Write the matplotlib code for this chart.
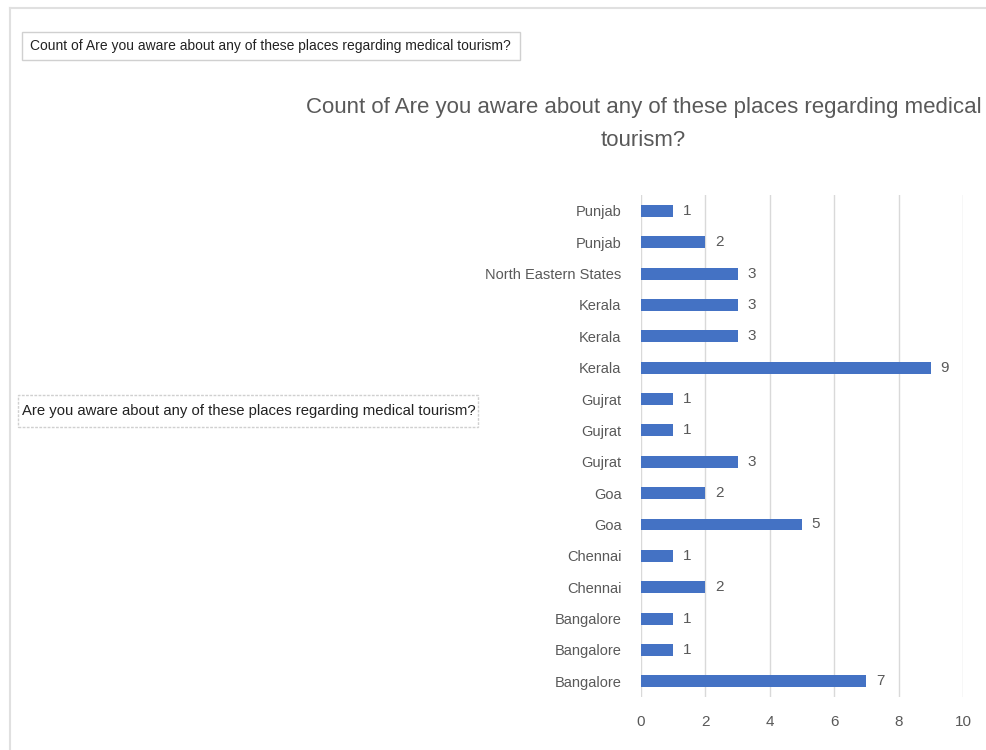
import matplotlib
matplotlib.use("Agg")
import matplotlib.pyplot as plt
from matplotlib.patches import Rectangle
from matplotlib.lines import Line2D

plt.rcParams["font.family"] = ["Liberation Sans", "DejaVu Sans"]

# bottom-to-top order, as the pivot chart draws them
places = ["Bangalore", "Bangalore", "Bangalore", "Chennai", "Chennai", "Goa", "Goa",
          "Gujrat", "Gujrat", "Gujrat", "Kerala", "Kerala", "Kerala",
          "North Eastern States", "Punjab", "Punjab"]
counts = [7, 1, 1, 2, 1, 5, 2, 3, 1, 1, 9, 3, 3, 3, 2, 1]
xticks = [0, 2, 4, 6, 8, 10]

BAR = "#4472C4"; TXT = "#595959"; GRID = "#D9D9D9"

fig = plt.figure(figsize=(9.87, 7.5), dpi=100)
ax = fig.add_axes([0.6494, 0.0707, 0.3263, 0.669])
y = range(len(places))
ax.barh(y, counts, height=0.38, color=BAR, zorder=3)
for i, v in zip(y, counts):
    ax.text(v + 0.3, i, f"{v}", va="center", ha="left", fontsize=11, color=TXT)
ax.set_yticks(list(y)); ax.set_yticklabels(places, fontsize=10.5, color=TXT)
ax.set_xticks(xticks); ax.set_xticklabels([str(t) for t in xticks], fontsize=11, color=TXT)
ax.set_xlim(0, 10); ax.set_ylim(-0.5, len(places) - 0.5)
ax.grid(axis="x", color=GRID, lw=1, zorder=0)
for s in ax.spines.values(): s.set_visible(False)
ax.tick_params(length=0)
ax.tick_params(axis="y", pad=14)
ax.tick_params(axis="x", pad=13)

fig.text(0.652, 0.834, "Count of Are you aware about any of these places regarding medical\ntourism?",
         ha="center", va="center", fontsize=16, color=TXT, linespacing=1.75)

# pivot field buttons
fig.patches.append(Rectangle((22/987, 1 - 60/750), 498/987, 28/750, transform=fig.transFigure,
                             fill=False, ec="#D0D0D0", lw=1))
fig.text(30/987, 1 - 46/750, "Count of Are you aware about any of these places regarding medical tourism?",
         ha="left", va="center", fontsize=10, color="#222222")
fig.patches.append(Rectangle((18/987, 1 - 427/750), 460/987, 32/750, transform=fig.transFigure,
                             fill=False, ec="#D0D0D0", lw=1, ls=(0, (2, 1))))
fig.text(22/987, 1 - 411/750, "Are you aware about any of these places regarding medical tourism?",
         ha="left", va="center", fontsize=10.7, color="#222222")

# sheet frame edges
fig.lines.append(Line2D([10/987, 1], [1 - 8/750, 1 - 8/750], transform=fig.transFigure, color="#E0E0E0", lw=1.5))
fig.lines.append(Line2D([10/987, 10/987], [0, 1 - 8/750], transform=fig.transFigure, color="#E0E0E0", lw=1.5))

fig.savefig("out.png", dpi=100)
